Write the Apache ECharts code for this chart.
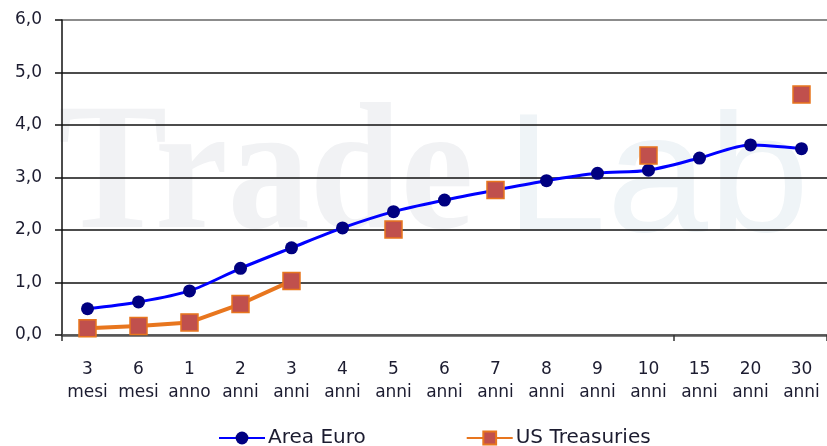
<!DOCTYPE html>
<html><head><meta charset="utf-8">
<script src="https://cdn.jsdelivr.net/npm/echarts@6/dist/echarts.min.js"></script>
<style>html,body{margin:0;padding:0;background:#fff}#c{width:827px;height:446px}</style>
</head><body><div id="c"></div>
<script>
const categories = ['3\nmesi','6\nmesi','1\nanno','2\nanni','3\nanni','4\nanni','5\nanni','6\nanni','7\nanni','8\nanni','9\nanni','10\nanni','15\nanni','20\nanni','30\nanni'];
const areaEuro = [0.50,0.63,0.84,1.27,1.66,2.04,2.35,2.57,2.76,2.94,3.08,3.14,3.37,3.62,3.55];
const usTreasuries = [0.13,0.17,0.24,0.59,1.03,null,2.01,null,2.76,null,null,3.42,null,null,4.58];
const seriesNames = ['Area Euro','US Treasuries'];
const yMin = 0, yMax = 6, yStep = 1;

const chart = echarts.init(document.getElementById('c'), null, {renderer:'canvas'});
const labelColor = '#1c1c30';
chart.setOption({
  animation:false,
  backgroundColor:'#fff',
  graphic:[
    {type:'text', z:-10, silent:true, x:58, y:180, scaleX:0.905, scaleY:1,
     style:{text:'Trade', x:0, y:0, font:'bold 181px "Liberation Serif"', fill:'#f1f2f4', textVerticalAlign:'middle'}},
    {type:'text', z:-10, silent:true, x:505, y:184, scaleX:1.08, scaleY:1,
     style:{text:'Lab', x:0, y:0, font:'169px "Liberation Sans"', fill:'#eff4f7', textVerticalAlign:'middle'}}
  ],
  grid:{left:62, top:20, width:768, height:315, containLabel:false},
  legend:{
    left:213, top:423, itemWidth:46, itemHeight:16, itemGap:100,
    textStyle:{fontFamily:'DejaVu Sans', fontSize:20, color:labelColor, padding:[0,0,0,-2]},
    data:seriesNames
  },
  xAxis:{
    type:'category', data:categories, boundaryGap:true,
    axisLine:{show:true, lineStyle:{color:'#555', width:2.5}},
    axisTick:{show:true, length:6, interval:function(i){return i===0||i===12;}, lineStyle:{color:'#333', width:1.5}},
    axisLabel:{interval:0, fontFamily:'DejaVu Sans', fontSize:17, lineHeight:23, margin:23, color:labelColor},
    splitLine:{show:false}
  },
  yAxis:{
    type:'value', min:yMin, max:yMax, interval:yStep,
    axisLine:{show:true, lineStyle:{color:'#111', width:1.5}},
    axisTick:{show:true, length:7, lineStyle:{color:'#111', width:1.5}},
    axisLabel:{fontFamily:'DejaVu Sans', fontSize:17, margin:20, color:labelColor, formatter:function(v){return v.toFixed(1).replace('.',',');}},
    splitLine:{show:true, lineStyle:{color:['#555','#111','#111','#111','#111','#111','#666'], width:1.6}}
  },
  series:[
    {name:seriesNames[0], type:'line', data:areaEuro, smooth:0.3, symbol:'circle', symbolSize:13,
     lineStyle:{color:'#0000ff', width:3}, itemStyle:{color:'#000080'}, z:3},
    {name:seriesNames[1], type:'line', data:usTreasuries, smooth:false, connectNulls:false, symbol:'rect', symbolSize:17,
     lineStyle:{color:'#e8761e', width:4}, itemStyle:{color:'#c0504d', borderColor:'#e8761e', borderWidth:1.5}, z:4}
  ]
});
</script></body></html>
